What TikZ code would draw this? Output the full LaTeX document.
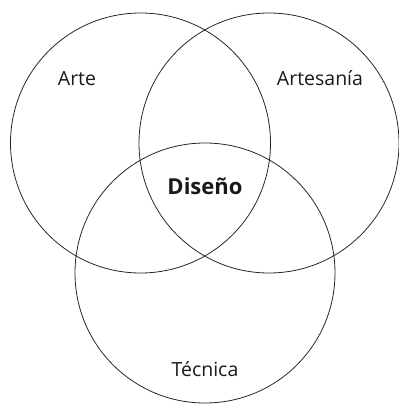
\documentclass[tikz,border=0pt]{standalone}
\usepackage{fontspec}
\setmainfont{Open Sans}
\begin{document}
\begin{tikzpicture}[x=1pt,y=-1pt,
  venn/.style={draw=black!85, line width=0.8pt},
  lbl/.style={font=\fontsize{19.5}{22}\selectfont, text=black!90, inner sep=0pt, anchor=base}]
\useasboundingbox (0,0) rectangle (399,405);
\node[venn, circle, minimum size=260pt, inner sep=0pt] (arte) at (140.5,143) {};
\node[venn, circle, minimum size=260pt, inner sep=0pt] (artesania) at (269,143) {};
\node[venn, circle, minimum size=260pt, inner sep=0pt] (tecnica) at (205,273) {};
\node[lbl] (tarte) at (77,85) {Arte};
\node[lbl] (tartesania) at (320,85) {Artesanía};
\node[lbl, font=\fontsize{22}{24}\selectfont\bfseries] (tdiseno) at (205,194) {Diseño};
\node[lbl] (ttecnica) at (205,376) {Técnica};
\end{tikzpicture}
\end{document}
